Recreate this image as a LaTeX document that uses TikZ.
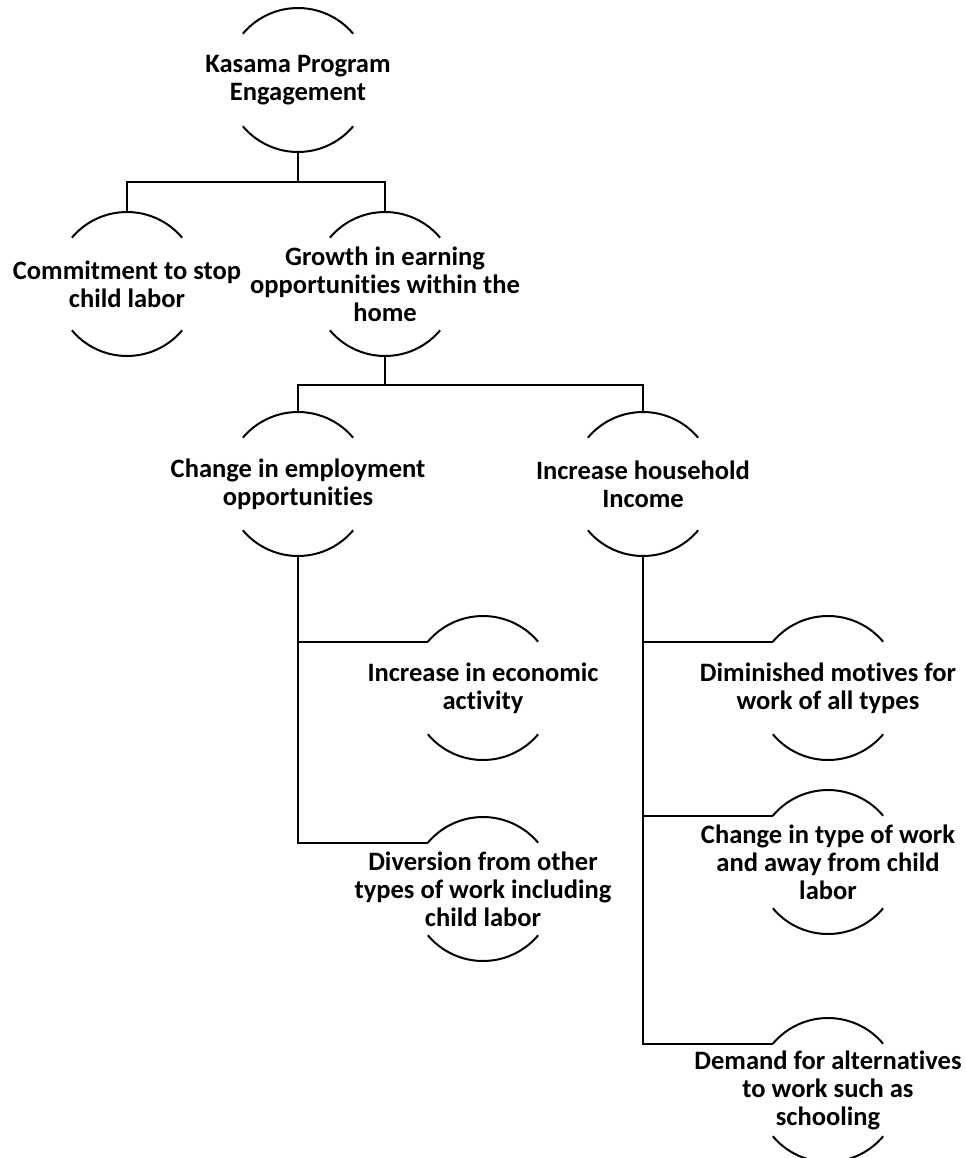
\documentclass[tikz,border=0pt]{standalone}
\usepackage{fontspec}
\setmainfont{Carlito}[Ligatures=NoCommon]
\begin{document}
\begin{tikzpicture}[x=0.75pt,y=-0.75pt,line width=1.5pt,
  ring/.style={circle,minimum size=108pt,inner sep=0pt,outer sep=0pt,draw=none},
  txt/.style={align=center,font=\bfseries\fontsize{19.9}{21}\selectfont,inner sep=0pt},
  link/.style={line width=1.5pt,line join=miter}]
\useasboundingbox (0,0) rectangle (966,1158);
% rings
\node[ring] (K) at (298,80) {};
\node[ring] (C) at (127,284) {};
\node[ring] (G) at (385,284) {};
\node[ring] (E) at (298,484) {};
\node[ring] (H) at (643,484) {};
\node[ring] (A) at (483,688) {};
\node[ring] (D) at (483,889) {};
\node[ring] (M) at (828,688) {};
\node[ring] (T) at (828,862) {};
\node[ring] (S) at (828,1090) {};
% texts
\node[txt] (Kt) at (K) {Kasama Program\\Engagement};
\node[txt] (Ct) at (C) {Commitment to stop\\child labor};
\node[txt] (Gt) at (G) {Growth in earning\\opportunities within the\\home};
\node[txt] (Et) at (E) {Change in employment\\opportunities};
\node[txt] (Ht) at (H) {Increase household\\Income};
\node[txt] (At) at (A) {Increase in economic\\activity};
\node[txt] (Dt) at (D) {Diversion from other\\types of work including\\child labor};
\node[txt] (Mt) at (M) {Diminished motives for\\work of all types};
\node[txt] (Tt) at (T) {Change in type of work\\and away from child\\labor};
\node[txt] (St) at (S) {Demand for alternatives\\to work such as\\schooling};
% arcs
\foreach \n in {K,C,G,E,H,A,D,M,T,S}{
  \draw (\n.40) arc[start angle=40,end angle=140,radius=54pt];
  \draw (\n.220) arc[start angle=220,end angle=320,radius=54pt];
}
% connectors
\draw[link] (K.south) -- ++(0,30) -| (C.north);
\draw[link] (K.south) -- ++(0,30) -| (G.north);
\draw[link] (G.south) -- ++(0,29) -| (E.north);
\draw[link] (G.south) -- ++(0,29) -| (H.north);
\draw[link] (E.south) |- (A.140);
\draw[link] (E.south) |- (D.140);
\draw[link] (H.south) |- (M.140);
\draw[link] (H.south) |- (T.140);
\draw[link] (H.south) |- (S.140);
\end{tikzpicture}
\end{document}
